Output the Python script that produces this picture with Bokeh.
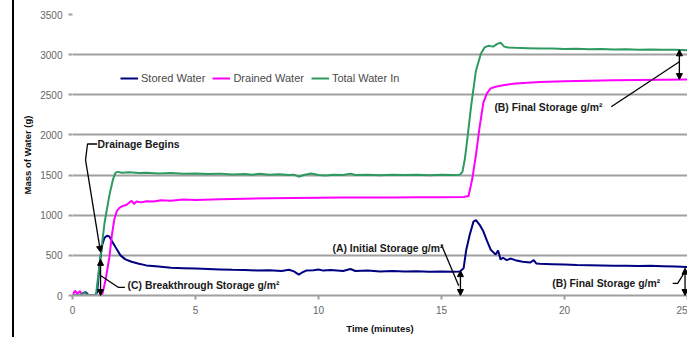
from bokeh.plotting import figure
from bokeh.models import (Range1d, FixedTicker, Legend, LegendItem, Label, Arrow,
                          NormalHead)
from bokeh.embed import file_html
from bokeh.resources import INLINE

# ---------------- data ----------------
t_total = [0, 0.2, 0.4, 0.5, 0.6, 0.8, 0.95, 1.1, 1.3, 1.5, 1.65, 1.75, 1.85, 2.0, 2.3, 2.7,
           3.0, 3.5, 4.0, 4.5, 5.0, 5.5, 6.0, 6.5, 7.0, 7.3, 7.6, 8.0, 8.4, 8.8, 9.0, 9.2,
           9.4, 9.7, 10.0, 10.3, 10.6, 11.0, 11.3, 11.5, 12.0, 12.5, 13.0, 13.5, 14.0, 14.5,
           15.0, 15.5, 15.75, 15.85, 15.95, 16.05, 16.2, 16.4, 16.6, 16.75, 16.9, 17.1,
           17.25, 17.4, 17.55, 17.7, 18.0, 18.5, 19.0, 19.5, 20.0, 20.5, 21.0, 21.5, 22.0,
           22.5, 23.0, 23.5, 24.0, 24.5, 25.0]
total_in = [0, 0, 20, 35, 10, 0, 0, 380, 900, 1250, 1450, 1530, 1540, 1530, 1535, 1525,
            1528, 1520, 1525, 1515, 1520, 1512, 1518, 1508, 1512, 1505, 1515, 1505, 1510,
            1500, 1505, 1480, 1500, 1520, 1500, 1495, 1505, 1500, 1518, 1500, 1505, 1498,
            1505, 1500, 1505, 1498, 1505, 1500, 1505, 1540, 1700, 1950, 2350, 2800, 3010,
            3090, 3110, 3100, 3130, 3150, 3100, 3090, 3085, 3080, 3075, 3078, 3070, 3072,
            3068, 3070, 3065, 3068, 3062, 3065, 3060, 3062, 3055]

t_drained = [0, 0.1, 0.2, 0.3, 0.4, 0.6, 1.0, 1.2, 1.35, 1.5, 1.6, 1.7, 1.8, 1.9, 2.0,
             2.2, 2.4, 2.5, 2.6, 2.8, 3.0, 3.3, 3.6, 4.0, 4.5, 5.0, 6.0, 7.0, 8.0, 9.0,
             10.0, 11.0, 12.0, 13.0, 14.0, 15.0, 15.9, 16.1, 16.25, 16.4, 16.55, 16.7,
             16.85, 17.0, 17.2, 17.5, 18.0, 18.5, 19.0, 20.0, 21.0, 22.0, 23.0, 24.0, 25.0]
drained = [0, 60, 20, 55, 0, 0, 0, 0, 200, 480, 750, 950, 1050, 1090, 1110, 1130, 1180,
           1140, 1170, 1160, 1175, 1170, 1185, 1180, 1195, 1190, 1200, 1205, 1210, 1215,
           1218, 1220, 1222, 1220, 1225, 1225, 1228, 1240, 1450, 1750, 2100, 2400, 2520,
           2580, 2600, 2620, 2640, 2650, 2660, 2670, 2675, 2680, 2685, 2688, 2690]

t_stored = [0, 0.3, 0.45, 0.55, 0.65, 0.9, 1.0, 1.1, 1.2, 1.3, 1.4, 1.5, 1.6, 1.75, 1.95,
            2.15, 2.4, 2.7, 3.0, 3.5, 4.0, 4.5, 5.0, 5.5, 6.0, 6.5, 7.0, 7.5, 8.0, 8.5, 8.8,
            9.0, 9.2, 9.35, 9.5, 9.8, 10.0, 10.2, 10.5, 11.0, 11.3, 11.5, 12.0, 12.5, 13.0,
            13.5, 14.0, 14.5, 15.0, 15.5, 15.75, 15.9, 16.0, 16.15, 16.3, 16.4, 16.55, 16.7,
            16.85, 17.0, 17.1, 17.2, 17.3, 17.4, 17.5, 17.65, 17.8, 18.0, 18.3, 18.6, 18.75,
            18.85, 19.0, 19.5, 20.0, 20.5, 21.0, 21.5, 22.0, 22.5, 23.0, 23.5, 24.0, 24.5, 25.0]
stored = [0, 0, 35, 40, 5, 0, 40, 380, 620, 720, 745, 735, 680, 600, 500, 450, 420, 395,
          375, 360, 345, 340, 335, 330, 325, 320, 318, 312, 315, 305, 320, 300, 260, 290,
          310, 315, 325, 310, 318, 305, 330, 305, 310, 300, 305, 298, 302, 295, 300, 295,
          300, 340, 560, 760, 920, 940, 880, 800, 680, 570, 540, 510, 560, 450, 470, 440,
          460, 440, 420, 410, 440, 400, 395, 390, 385, 380, 378, 375, 372, 370, 368, 370,
          365, 360, 355]

x_ticks = [0, 5, 10, 15, 20, 25]
y_ticks = [0, 500, 1000, 1500, 2000, 2500, 3000, 3500]

series_names = ["Stored Water", "Drained Water", "Total Water In"]
series_colors = ["#000080", "#FF00FF", "#2E9960"]

# annotation texts and their anchor points (minutes, grams)
ann_texts = ["Drainage Begins", "(C) Breakthrough Storage g/m\u00b2",
             "(A) Initial Storage g/m\u00b2", "(B) Final Storage g/m\u00b2",
             "(B) Final Storage g/m\u00b2"]
ann_x = [1.02, 2.24, 10.57, 19.5, 17.15]
ann_y = [1887, 125, 590, 150, 2340]

# leader lines (minutes, grams)
leader_xs = [[1.0, 0.61, 0.53], [1.14, 1.87, 2.13], [15.0, 15.7], [24.4, 24.6, 24.88],
             [21.9, 24.67]]
leader_ys = [[1887, 1887, 1690], [250, 100, 100], [630, 120], [150, 150, 290],
             [2350, 2912]]
# arrows: start point, end point, double-headed or not
arr_x0 = [0.53, 1.14, 15.77, 24.9, 24.67]
arr_y0 = [1690, 0, 0, 0, 2690]
arr_x1 = [1.14, 1.14, 15.77, 24.9, 24.67]
arr_y1 = [540, 450, 310, 340, 3060]
arr_double = [False, True, True, True, True]

# ---------------- figure ----------------
p = figure(width=687, height=337, output_backend="svg", toolbar_location=None,
           x_range=Range1d(0, 25), y_range=Range1d(0, 3500),
           min_border_left=72, min_border_right=0, min_border_top=14, min_border_bottom=42)
p.outline_line_color = None
p.background_fill_color = "white"
p.border_fill_color = None
p.styles = {"background": "linear-gradient(to right, white 12px, black 12px, black 14px, white 14px)"}

p.xgrid.grid_line_color = None
p.ygrid.grid_line_color = "#a0a0a0"
p.ygrid.grid_line_width = 2

p.xaxis.ticker = FixedTicker(ticks=x_ticks)
p.yaxis.ticker = FixedTicker(ticks=y_ticks)
for ax in (p.xaxis[0], p.yaxis[0]):
    ax.major_label_text_font = "Liberation Sans"
    ax.major_label_text_font_size = "10px"
    ax.major_label_text_color = "#666666"
    ax.minor_tick_line_color = None
    ax.major_tick_in = 0
    ax.major_tick_out = 4
    ax.major_tick_line_color = "#a0a0a0"
    ax.major_tick_line_width = 2
    ax.axis_label_text_font = "Liberation Sans"
    ax.axis_label_text_font_style = "bold"
    ax.axis_label_text_font_size = "9.5px"
    ax.axis_label_text_color = "#111111"
p.xaxis.axis_label = "Time (minutes)"
p.yaxis.axis_label = "Mass of Water (g)"
p.xaxis.axis_label_standoff = 6
p.yaxis.axis_label_standoff = 4
p.xaxis.axis_line_color = "#a0a0a0"
p.xaxis.axis_line_width = 2
p.yaxis.axis_line_color = None
p.xaxis.major_label_standoff = 6
p.yaxis.major_label_standoff = 6

renderers = []
for tx, vy, c in zip([t_stored, t_drained, t_total], [stored, drained, total_in], series_colors):
    renderers.append(p.line(tx, vy, line_color=c, line_width=2))

legend = Legend(items=[LegendItem(label=n, renderers=[r]) for n, r in zip(series_names, renderers)],
                orientation="horizontal", location=(48, 211), padding=0, margin=0,
                spacing=7, label_standoff=3, glyph_width=18, glyph_height=12,
                label_text_font="Liberation Sans", label_text_font_size="11px",
                label_text_color="#4a4a4a", border_line_color=None,
                background_fill_alpha=0)
p.add_layout(legend)

# annotation leader lines and arrows
for xs, ys in zip(leader_xs, leader_ys):
    p.line(xs, ys, line_color="black", line_width=1.3)
for x0, y0, x1, y1, dbl in zip(arr_x0, arr_y0, arr_x1, arr_y1, arr_double):
    a = Arrow(x_start=x0, y_start=y0, x_end=x1, y_end=y1, line_color="black", line_width=1.3,
              end=NormalHead(size=6, fill_color="black", line_color="black"),
              start=NormalHead(size=6, fill_color="black", line_color="black") if dbl else None)
    p.add_layout(a)

for txt, x, y in zip(ann_texts, ann_x, ann_y):
    p.add_layout(Label(x=x, y=y, text=txt, text_font="Liberation Sans",
                       text_font_style="bold", text_font_size="10.4px", text_color="#1a1a1a",
                       text_align="left", text_baseline="middle"))

open("out.html", "w").write(file_html(p, INLINE))
